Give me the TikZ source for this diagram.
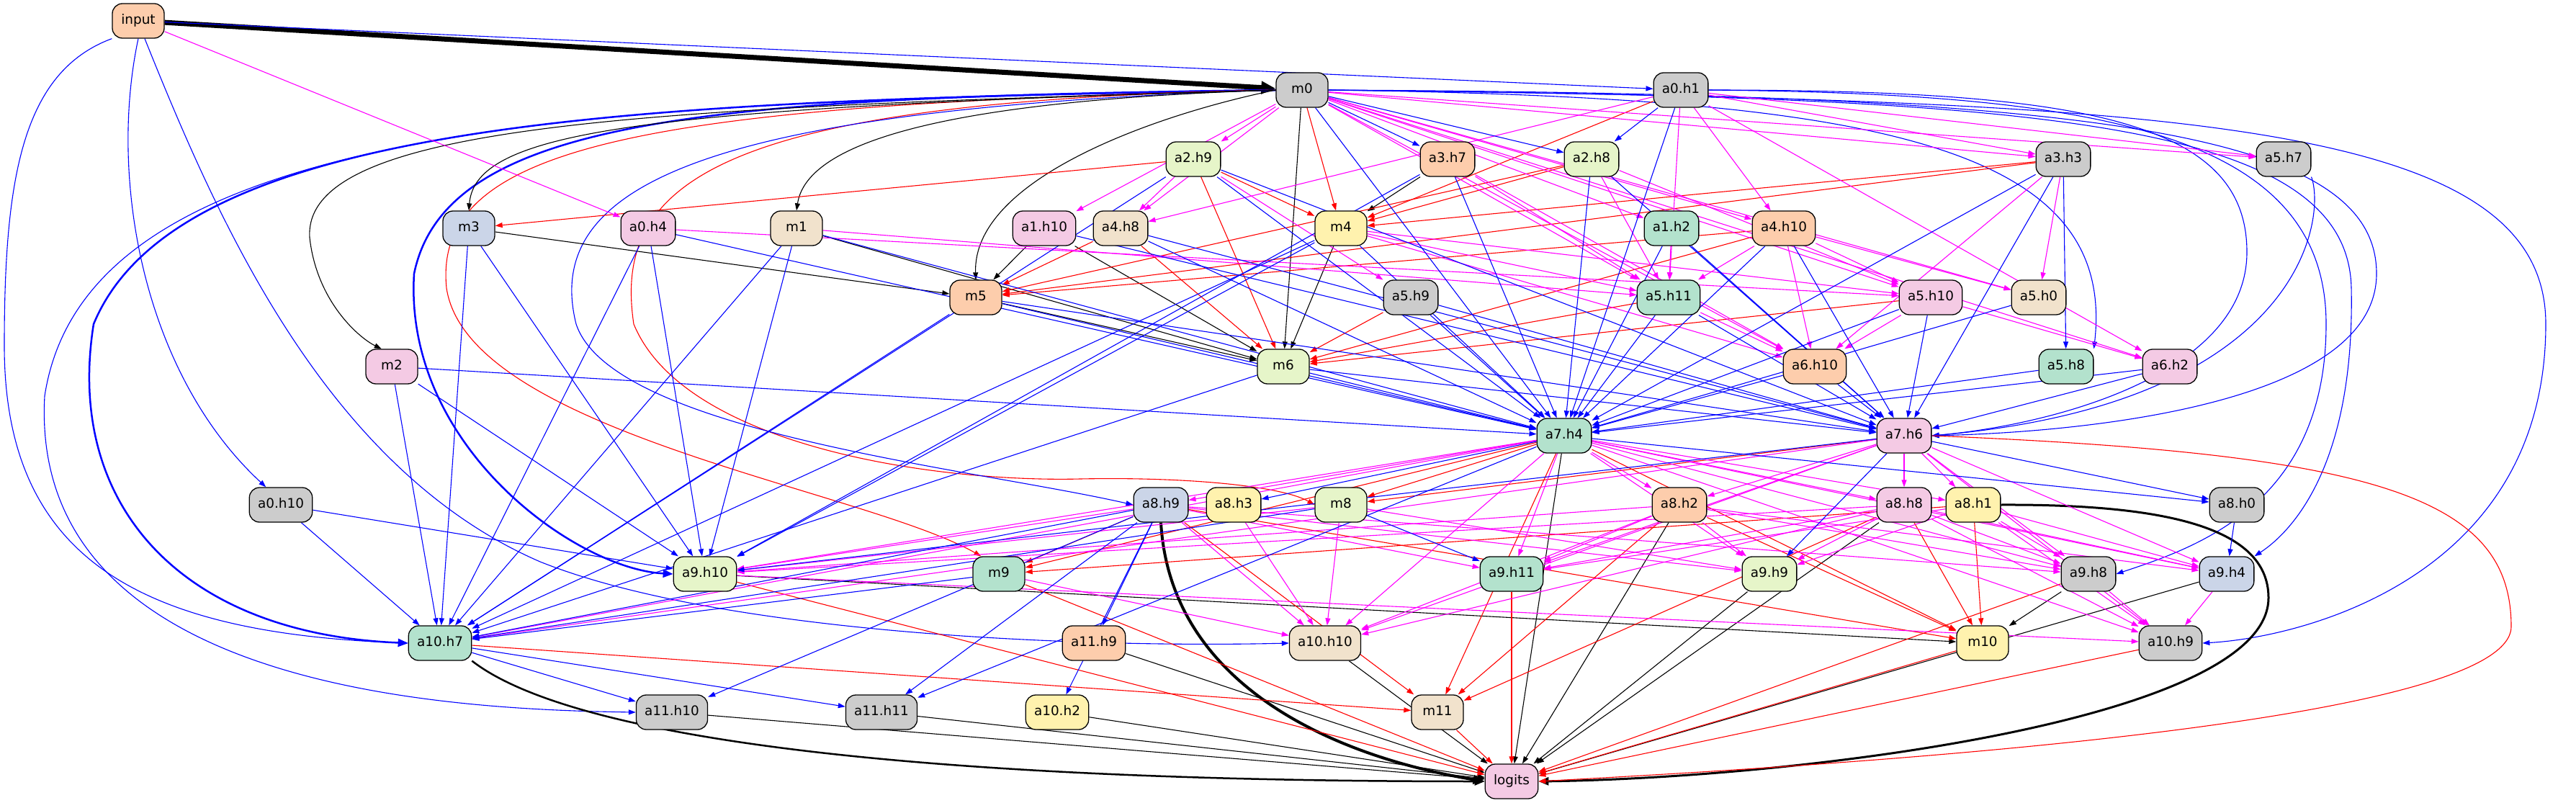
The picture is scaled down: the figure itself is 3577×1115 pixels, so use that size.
\documentclass[tikz,border=0pt]{standalone}
\usepackage{fontspec}
\setmainfont{DejaVu Sans}
\usetikzlibrary{arrows.meta,backgrounds}
\definecolor{pgr}{HTML}{CCCCCC}
\definecolor{por}{HTML}{FDCDAC}
\definecolor{pbl}{HTML}{CBD5E8}
\definecolor{ppk}{HTML}{F4CAE4}
\definecolor{plg}{HTML}{E6F5C9}
\definecolor{pyl}{HTML}{FFF2AE}
\definecolor{pbe}{HTML}{F1E2CC}
\definecolor{pgn}{HTML}{B3E2CD}
\definecolor{emag}{HTML}{FF00FF}
\definecolor{eblu}{HTML}{0000FF}
\definecolor{ered}{HTML}{FF0000}
\begin{document}
\begin{tikzpicture}[x=1pt,y=1pt,
 nd/.style={draw=black, line width=1.3pt, rounded corners=14pt, minimum height=48pt, minimum width=72pt, inner xsep=11.75pt, inner ysep=0pt, font=\fontsize{18.4}{22}\selectfont, text height=13.4pt, text depth=4.3pt},
 arr/.style={-{Triangle[length=10pt,width=7pt]}},
 eb/.style={draw=eblu, line width=1.1pt, arr},
 em/.style={draw=emag, line width=1.1pt, arr},
 er/.style={draw=ered, line width=1.1pt, arr},
 ek/.style={draw=black, line width=1.1pt, arr},
 ]
\useasboundingbox (0,0) rectangle (3577,-1115);
% nodes
\node[nd, fill=por] (input) at (192,-29) {input};
\node[nd, fill=pgr] (m0) at (1808,-125) {m0};
\node[nd, fill=pgr] (a0h1) at (2334,-125) {a0.h1};
\node[nd, fill=plg] (a2h9) at (1657,-221) {a2.h9};
\node[nd, fill=por] (a3h7) at (2010,-221) {a3.h7};
\node[nd, fill=plg] (a2h8) at (2210,-221) {a2.h8};
\node[nd, fill=pgr] (a3h3) at (2865,-221) {a3.h3};
\node[nd, fill=pgr] (a5h7) at (3171,-221) {a5.h7};
\node[nd, fill=pbl] (m3) at (651,-317) {m3};
\node[nd, fill=ppk] (a0h4) at (900,-317) {a0.h4};
\node[nd, fill=pbe] (m1) at (1106,-317) {m1};
\node[nd, fill=ppk] (a1h10) at (1450,-317) {a1.h10};
\node[nd, fill=pbe] (a4h8) at (1556,-317) {a4.h8};
\node[nd, fill=pyl] (m4) at (1862,-317) {m4};
\node[nd, fill=pgn] (a1h2) at (2321,-317) {a1.h2};
\node[nd, fill=por] (a4h10) at (2477,-317) {a4.h10};
\node[nd, fill=por] (m5) at (1355,-413) {m5};
\node[nd, fill=pgr] (a5h9) at (1959,-413) {a5.h9};
\node[nd, fill=pgn] (a5h11) at (2317,-413) {a5.h11};
\node[nd, fill=ppk] (a5h10) at (2681,-413) {a5.h10};
\node[nd, fill=pbe] (a5h0) at (2831,-413) {a5.h0};
\node[nd, fill=ppk] (m2) at (544,-509) {m2};
\node[nd, fill=plg] (m6) at (1782,-509) {m6};
\node[nd, fill=por] (a6h10) at (2520,-509) {a6.h10};
\node[nd, fill=pgn] (a5h8) at (2869,-509) {a5.h8};
\node[nd, fill=ppk] (a6h2) at (3013,-509) {a6.h2};
\node[nd, fill=pgn] (a7h4) at (2172,-605) {a7.h4};
\node[nd, fill=ppk] (a7h6) at (2644,-605) {a7.h6};
\node[nd, fill=pgr] (a0h10) at (390,-701) {a0.h10};
\node[nd, fill=pbl] (a8h9) at (1612,-701) {a8.h9};
\node[nd, fill=pyl] (a8h3) at (1713,-701) {a8.h3};
\node[nd, fill=plg] (m8) at (1862,-701) {m8};
\node[nd, fill=por] (a8h2) at (2332,-701) {a8.h2};
\node[nd, fill=ppk] (a8h8) at (2644,-701) {a8.h8};
\node[nd, fill=pyl] (a8h1) at (2740,-701) {a8.h1};
\node[nd, fill=pgr] (a8h0) at (3106,-701) {a8.h0};
\node[nd, fill=plg] (a9h10) at (979,-797) {a9.h10};
\node[nd, fill=pgn] (m9) at (1387,-797) {m9};
\node[nd, fill=pgn] (a9h11) at (2099,-797) {a9.h11};
\node[nd, fill=plg] (a9h9) at (2457,-797) {a9.h9};
\node[nd, fill=pgr] (a9h8) at (2900,-797) {a9.h8};
\node[nd, fill=pbl] (a9h4) at (3092,-797) {a9.h4};
\node[nd, fill=pgn] (a10h7) at (611,-893) {a10.h7};
\node[nd, fill=por] (a11h9) at (1519,-893) {a11.h9};
\node[nd, fill=pbe] (a10h10) at (1840,-893) {a10.h10};
\node[nd, fill=pyl] (m10) at (2753,-893) {m10};
\node[nd, fill=pgr] (a10h9) at (3014,-893) {a10.h9};
\node[nd, fill=pgr] (a11h10) at (933,-989) {a11.h10};
\node[nd, fill=pgr] (a11h11) at (1224,-989) {a11.h11};
\node[nd, fill=pyl] (a10h2) at (1468,-989) {a10.h2};
\node[nd, fill=pbe] (m11) at (1996,-989) {m11};
\node[nd, fill=ppk] (logits) at (2099,-1085) {logits};
% edges
\begin{scope}[on background layer]
% thick / special
\draw[draw=black, line width=7pt, -{Triangle[length=20pt,width=17pt]}] (input) -- (m0);
\draw[eb, line width=2.5pt, -{Triangle[length=14pt,width=11pt]}] (m0.west) .. controls (900,-140) and (250,-160) .. (130,-450) .. controls (90,-700) and (250,-880) .. (a10h7.west);
\draw[eb, line width=2.5pt, -{Triangle[length=14pt,width=11pt]}] (m0.west) .. controls (1000,-135) and (620,-160) .. (575,-380) .. controls (560,-620) and (800,-790) .. (a9h10.west);
\draw[eb] (m0.west) .. controls (800,-140) and (120,-170) .. (62,-550) .. controls (40,-950) and (600,-985) .. (a11h10.west);
\draw[eb] (input.south west) .. controls (30,-100) and (6,-250) .. (6,-480) .. controls (6,-780) and (200,-880) .. (a10h7.west);
\draw[eb] (input.south) .. controls (150,-250) and (200,-520) .. (a0h10.130);
\draw[eb] (input.-70) .. controls (300,-300) and (450,-650) .. (750,-780) .. controls (1000,-880) and (1500,-900) .. (a10h10.west);
\draw[er] (m0.west) .. controls (900,-145) and (600,-200) .. (620,-400) .. controls (650,-600) and (1200,-680) .. (m9.135);
\draw[er] (m0.west) .. controls (1000,-140) and (850,-250) .. (880,-450) .. controls (950,-620) and (1300,-670) .. (1500,-665) .. controls (1650,-662) and (1780,-675) .. (m8.west);
\draw[eb] (m0.west) .. controls (1000,-150) and (750,-250) .. (800,-450) .. controls (850,-600) and (1350,-650) .. (a8h9.west);
\draw[eb] (m0.east) .. controls (2800,-135) and (3260,-160) .. (3265,-400) .. controls (3270,-650) and (3180,-740) .. (a9h4.north east);
\draw[eb] (m0.east) .. controls (3000,-140) and (3535,-160) .. (3535,-450) .. controls (3535,-800) and (3200,-885) .. (a10h9.east);
\draw[eb] (a0h1.east) .. controls (2900,-130) and (3230,-180) .. (3230,-450) .. controls (3230,-700) and (3050,-760) .. (a9h8.east);
\draw[eb] (m0.east) .. controls (2900,-130) and (3300,-180) .. (3300,-380) .. controls (3300,-560) and (2900,-600) .. (a7h6.east);
\draw[eb] (a0h1.east) .. controls (2900,-125) and (3120,-170) .. (3120,-350) .. controls (3120,-520) and (2850,-590) .. (a7h6.east);
\draw[eb] (a5h7.south east) .. controls (3230,-300) and (3200,-560) .. (a7h6.east);
\draw[eb] (m0.east) .. controls (2600,-135) and (2940,-200) .. (a5h8.north east);
\draw[draw=black, line width=3pt, -{Triangle[length=14pt,width=11pt]}] (a8h1.east) .. controls (3000,-700) and (3150,-730) .. (3150,-830) .. controls (3150,-1000) and (2500,-1080) .. (logits.east);
\draw[er] (a7h6.east) .. controls (3300,-630) and (3487,-690) .. (3487,-870) .. controls (3487,-1010) and (2500,-1065) .. (logits.east);
\draw[draw=black, line width=2.5pt, -{Triangle[length=14pt,width=11pt]}] (a10h7.south east) .. controls (800,-1030) and (1300,-1085) .. (logits.west);
\draw[draw=black, line width=4pt, -{Triangle[length=16pt,width=12pt]}] (a8h9.south) .. controls (1625,-950) and (1850,-1050) .. (logits.west);
\draw[ek] (m0.west) .. controls (900,-150) and (660,-180) .. (m3.north);
\draw[ek] (m0.west) .. controls (900,-150) and (420,-170) .. (430,-330) .. controls (440,-420) and (500,-470) .. (m2.120);
\draw[ek] (m0.west) .. controls (1300,-140) and (1120,-200) .. (m1.north);
\draw[ek] (m0.west) .. controls (1600,-160) and (1350,-250) .. (m5.north);
% black
\foreach \s/\t in {m0/m6, a3h7/m4, m3/m5, m1/m6, a1h10/m5, a1h10/m6, m4/m6, m5/m6, a7h4/logits, a8h2/logits, a8h8/logits, a9h10/m10, a9h9/logits, a9h8/m10, a9h4/logits, a10h10/logits, a11h9/logits, a11h10/logits, a11h11/logits, a10h2/logits}
  \draw[ek] (\s) -- (\t);
% red
\foreach \s/\t in {m0/m4, a0h1/m4, a2h9/m3, a2h9/m4, a2h9/m6, a2h8/m4, a2h8/m5, a3h3/m4, a3h3/m5, a4h8/m5, a4h8/m6, a4h10/m6, a4h10/m5, a5h9/m6, a5h11/m6, a5h10/m6, a7h4/m8, a7h6/m8, a7h4/m11, a7h4/m9, a7h4/m10, a8h9/m9, a8h9/m10, a8h9/m11, a8h2/m10, a8h2/m11, a8h8/m10, a8h8/m11, a8h1/m10, a8h1/m9, a9h10/logits, m9/logits, a9h11/logits, a9h8/logits, a10h7/m11, m10/logits, a10h9/logits, m11/logits}
  \draw[er] (\s) -- (\t);
% magenta
\foreach \s/\t in {input/a0h4, m0/a2h9, m0/a1h10, m0/a4h8, m0/a1h2, m0/a4h10, m0/a5h11, m0/a5h10, m0/a5h0, m0/a6h2, m0/a3h3, m0/a5h7, m0/a6h10, a0h1/a5h11, a0h1/a3h3, a0h1/a5h7, a0h1/a4h8, a0h1/a4h10, a0h1/a6h2, a2h9/a4h8, a2h9/a5h9, a3h7/a5h11, a3h7/a6h10, a2h8/a5h10, a2h8/a5h11, a3h3/a5h0, a3h3/a6h10, a0h4/a5h10, m1/a5h11, m4/a5h11, m4/a5h10, m4/a6h10, a1h2/a5h11, a4h10/a5h11, a4h10/a6h10, a4h10/a5h10, a4h10/a5h0, a5h11/a6h10, a5h10/a6h10, a5h10/a6h2,
  a7h4/a8h2, a7h4/a8h8, a7h4/a8h1, a7h4/a9h11, a7h4/a9h9, a7h4/a10h10, a7h4/a9h10, a7h4/a10h7, a7h4/a9h8, a7h4/a9h4, a7h4/a10h9, a7h4/a8h9,
  a7h6/a8h2, a7h6/a8h8, a7h6/a8h1, a7h6/a9h11, a7h6/a9h8, a7h6/a9h4, a7h6/a10h9, a7h6/a10h10, a7h6/a10h7,
  a8h9/a9h10, a8h9/a9h11, a8h9/a9h9, a8h9/a9h8, a8h9/a10h10, a8h3/a10h10, m8/a10h10, m8/a9h10, m8/a9h9, a8h2/a9h10, a8h2/a10h10, a8h2/a9h9, a8h2/a9h11, a8h2/a9h8, a8h2/a9h4, a8h8/a9h8, a8h8/a9h4, a8h8/a10h9, a8h8/a9h9, a8h8/a10h10, a8h8/a9h11, a8h8/a9h10, a8h1/a9h8, a8h1/a9h4, a8h1/a10h9, a8h1/a9h9, a8h1/a9h11, a9h10/a10h9, m9/a10h10, a9h8/a10h9, a9h4/a10h9}
  \draw[em] (\s) -- (\t);
% blue
\foreach \s/\t in {input/a0h1, m0/a3h7, m0/a2h8, m0/a7h4, a0h1/a2h8, a0h1/a7h4, a2h9/a7h4, a2h9/a10h7, a2h9/a7h6, a3h7/a9h10, a3h7/a7h4, a2h8/a7h4, a2h8/a7h6, a3h3/a7h4, a3h3/a7h6, a3h3/a5h8, m3/a10h7, m3/a9h10, a0h4/a10h7, a0h4/a9h10, a0h4/a7h4, m1/a10h7, m1/a9h10, m1/a7h4, a1h10/a7h6, a4h8/a7h6, a4h8/a7h4, m4/a9h10, m4/a10h7, m4/a7h4, a1h2/a7h4, a1h2/a7h6, a4h10/a7h4, a4h10/a7h6, m5/a7h4, m5/a7h6, m5/a10h7, a5h9/a7h4, a5h9/a7h6, a5h11/a7h4, a5h11/a7h6, a5h10/a7h6, a5h10/a7h4, a5h0/a7h4, m2/a7h4, m2/a10h7, m2/a9h10, m6/a7h4, m6/a7h6, m6/a10h7, a6h10/a7h6, a6h10/a7h4, a5h8/a7h4, a6h2/a7h4, a6h2/a7h6, a7h4/a8h3, a7h4/a8h0, a7h4/a11h11, a7h6/a8h0, a7h6/a9h9, a7h6/a9h10, a0h10/a9h10, a0h10/a10h7, a8h9/a10h7, a8h9/a11h9, a8h9/a10h2, a8h9/a11h11, a8h9/a11h10, m8/a10h7, m8/a9h11, a8h0/a9h4, m9/a10h7, a10h7/a11h10, a10h7/a11h11}
  \draw[eb] (\s) -- (\t);
\end{scope}
\end{tikzpicture}
\end{document}
